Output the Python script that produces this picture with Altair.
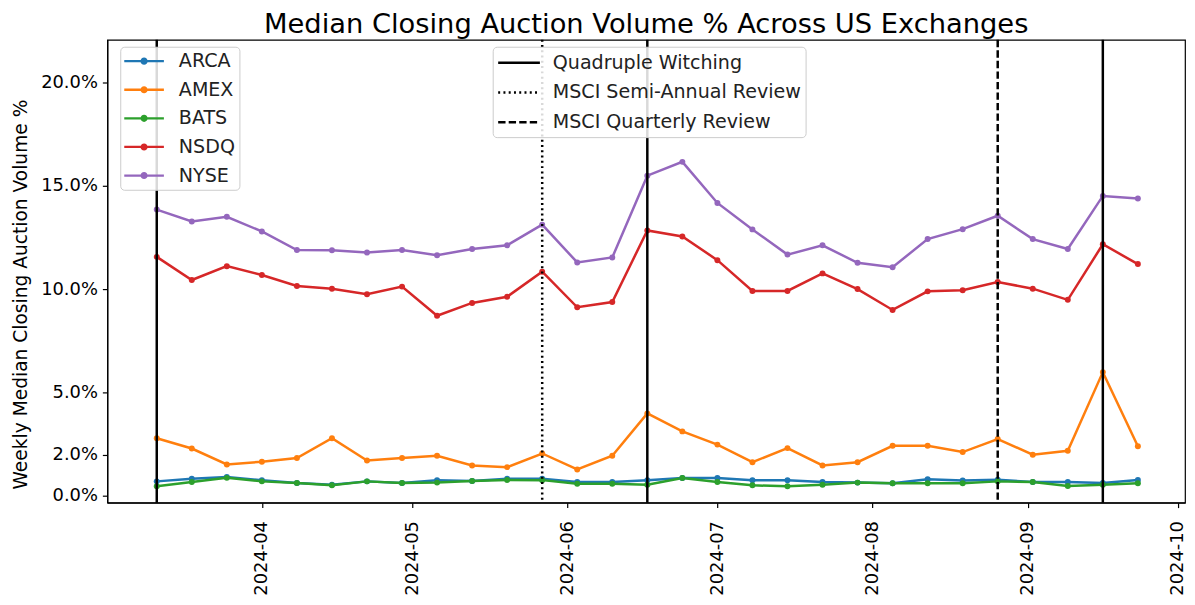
import altair as alt
import pandas as pd

# ---------------- data ----------------
dates = [
    "2024-03-11", "2024-03-18", "2024-03-25", "2024-04-01", "2024-04-08",
    "2024-04-15", "2024-04-22", "2024-04-29", "2024-05-06", "2024-05-13",
    "2024-05-20", "2024-05-27", "2024-06-03", "2024-06-10", "2024-06-17",
    "2024-06-24", "2024-07-01", "2024-07-08", "2024-07-15", "2024-07-22",
    "2024-07-29", "2024-08-05", "2024-08-12", "2024-08-19", "2024-08-26",
    "2024-09-02", "2024-09-09", "2024-09-16", "2024-09-23",
]
exchanges = ["ARCA", "AMEX", "BATS", "NSDQ", "NYSE"]

arca = [0.70, 0.83, 0.91, 0.75, 0.62, 0.54, 0.70, 0.62, 0.75, 0.72,
        0.83, 0.83, 0.67, 0.67, 0.75, 0.86, 0.86, 0.75, 0.75, 0.67,
        0.64, 0.61, 0.80, 0.74, 0.78, 0.67, 0.67, 0.62, 0.77]
amex = [2.79, 2.29, 1.52, 1.65, 1.83, 2.79, 1.71, 1.83, 1.94, 1.47,
        1.39, 2.05, 1.28, 1.94, 3.99, 3.12, 2.48, 1.63, 2.31, 1.47,
        1.63, 2.42, 2.42, 2.12, 2.75, 1.99, 2.18, 5.99, 2.40]
bats = [0.46, 0.67, 0.87, 0.70, 0.62, 0.51, 0.70, 0.62, 0.64, 0.72,
        0.77, 0.76, 0.59, 0.58, 0.54, 0.86, 0.67, 0.51, 0.46, 0.54,
        0.64, 0.61, 0.61, 0.61, 0.70, 0.67, 0.48, 0.54, 0.61]
nsdq = [11.57, 10.45, 11.12, 10.69, 10.16, 10.03, 9.76, 10.13, 8.72, 9.34,
        9.64, 10.85, 9.13, 9.38, 12.85, 12.56, 11.41, 9.92, 9.92, 10.77,
        10.01, 9.00, 9.90, 9.95, 10.35, 10.03, 9.49, 12.18, 11.22]
nyse = [13.86, 13.28, 13.51, 12.80, 11.90, 11.89, 11.78, 11.90, 11.65, 11.95,
        12.13, 13.13, 11.30, 11.54, 15.50, 16.17, 14.18, 12.90, 11.68, 12.13,
        11.28, 11.07, 12.43, 12.91, 13.56, 12.43, 11.95, 14.52, 14.40]

colors = ["#1f77b4", "#ff7f0e", "#2ca02c", "#d62728", "#9467bd"]

event_types = ["Quadruple Witching", "MSCI Semi-Annual Review", "MSCI Quarterly Review"]
event_dates = ["2024-03-11", "2024-05-27", "2024-06-17", "2024-08-26", "2024-09-16"]
event_kinds = ["Quadruple Witching", "MSCI Semi-Annual Review", "Quadruple Witching",
               "MSCI Quarterly Review", "Quadruple Witching"]
dash_patterns = [[1, 0], [2, 3.3], [7.4, 3.2]]

y_ticks = [0, 2, 5, 10, 15, 20]
tick_months = [4, 5, 6, 7, 8, 9, 10]

# ---------------- frames ----------------
series = {"ARCA": arca, "AMEX": amex, "BATS": bats, "NSDQ": nsdq, "NYSE": nyse}
hex_of = dict(zip(exchanges, colors))
rows = []
for ex in exchanges:
    for d, v in zip(dates, series[ex]):
        rows.append({"date": d, "exchange": ex, "value": v, "hex": hex_of[ex]})
df = pd.DataFrame(rows)
ev = pd.DataFrame({"date": event_dates, "kind": event_kinds})

FONT = "DejaVu Sans"

x_enc = alt.X(
    "date:T",
    scale=alt.Scale(
        type="utc",
        domain=[
            alt.DateTime(year=2024, month=3, date=1, hours=3, utc=True),
            alt.DateTime(year=2024, month=10, date=2, hours=10, utc=True),
        ],
    ),
    axis=alt.Axis(
        values=[alt.DateTime(year=2024, month=m, date=1, utc=True) for m in tick_months],
        labelExpr="utcFormat(datum.value, '%Y-%m')",
        labelAngle=270,
        labelAlign="right",
        labelBaseline="middle",
        labelFontSize=18,
        labelPadding=13,
        title=None,
    ),
)
y_enc = alt.Y(
    "value:Q",
    scale=alt.Scale(domain=[-0.33, 22.08], nice=False, zero=False),
    axis=alt.Axis(
        values=y_ticks,
        labelExpr="format(datum.value, '.1f') + '%'",
        labelFontSize=18,
        labelPadding=5,
        title="Weekly Median Closing Auction Volume %",
        titleFontSize=18.75,
        titleFontWeight="normal",
        titlePadding=10,
        titleY=256,
    ),
)

# legend symbol paths (unit coords scaled by sqrt(size)/2)
ex_sym = ("M-1.9,-0.11L1.9,-0.11L1.9,0.11L-1.9,0.11Z "
          "M0.34,0A0.34,0.34 0 1,1 -0.34,0A0.34,0.34 0 1,1 0.34,0Z")
ev_sym = "M-2,0L2,0"

lines = alt.Chart(df).mark_line(strokeWidth=2.5).encode(
    x=x_enc,
    y=y_enc,
    stroke=alt.Stroke("hex:N", scale=None),
    detail="exchange:N",
)
points = alt.Chart(df).mark_circle(size=36, opacity=1).encode(
    x=x_enc,
    y=y_enc,
    color=alt.Color(
        "exchange:N",
        scale=alt.Scale(domain=exchanges, range=colors),
        legend=alt.Legend(
            title=None,
            orient="none",
            legendX=13,
            legendY=7,
            symbolType=ex_sym,
            symbolSize=441,
            symbolStrokeWidth=0,
            symbolOffset=9.5,
            labelOffset=24.5,
            labelFontSize=19.2,
            rowPadding=7.8,
            padding=4,
        ),
    ),
)
rules = alt.Chart(ev).mark_rule(color="black", strokeWidth=2.5).encode(
    x=x_enc,
    strokeDash=alt.StrokeDash(
        "kind:N",
        scale=alt.Scale(domain=event_types, range=dash_patterns),
        legend=alt.Legend(
            title=None,
            orient="none",
            legendX=388,
            legendY=7,
            symbolType=ev_sym,
            symbolSize=441,
            symbolStrokeWidth=2.5,
            symbolStrokeColor="black",
            symbolOffset=10.5,
            labelOffset=22,
            labelFontSize=19.2,
            rowPadding=7,
            padding=4,
        ),
    ),
)

chart = (
    alt.layer(lines, points, rules)
    .properties(
        width=1085,
        height=466,
        title=alt.TitleParams(
            "Median Closing Auction Volume % Across US Exchanges",
            fontSize=27.5,
            font=FONT,
            fontWeight="normal",
            color="black",
            anchor="middle",
            offset=0,
        ),
        autosize=alt.AutoSizeParams(type="none"),
        padding={"left": 100, "top": 30, "right": 2, "bottom": 95},
    )
    .configure(font=FONT)
    .configure_view(stroke="black", strokeWidth=1.2)
    .configure_axis(
        grid=False,
        domainColor="black",
        domainWidth=1.2,
        tickColor="black",
        tickSize=5,
        tickWidth=1.2,
        labelColor="black",
        titleColor="black",
        labelFont=FONT,
        titleFont=FONT,
    )
    .configure_legend(
        labelFont=FONT,
        labelColor="#222",
        labelLimit=500,
        fillColor="rgba(255,255,255,0.85)",
        strokeColor="#cccccc",
        cornerRadius=4,
    )
)

chart.save("out.html", embed_options={"renderer": "svg", "actions": False})
